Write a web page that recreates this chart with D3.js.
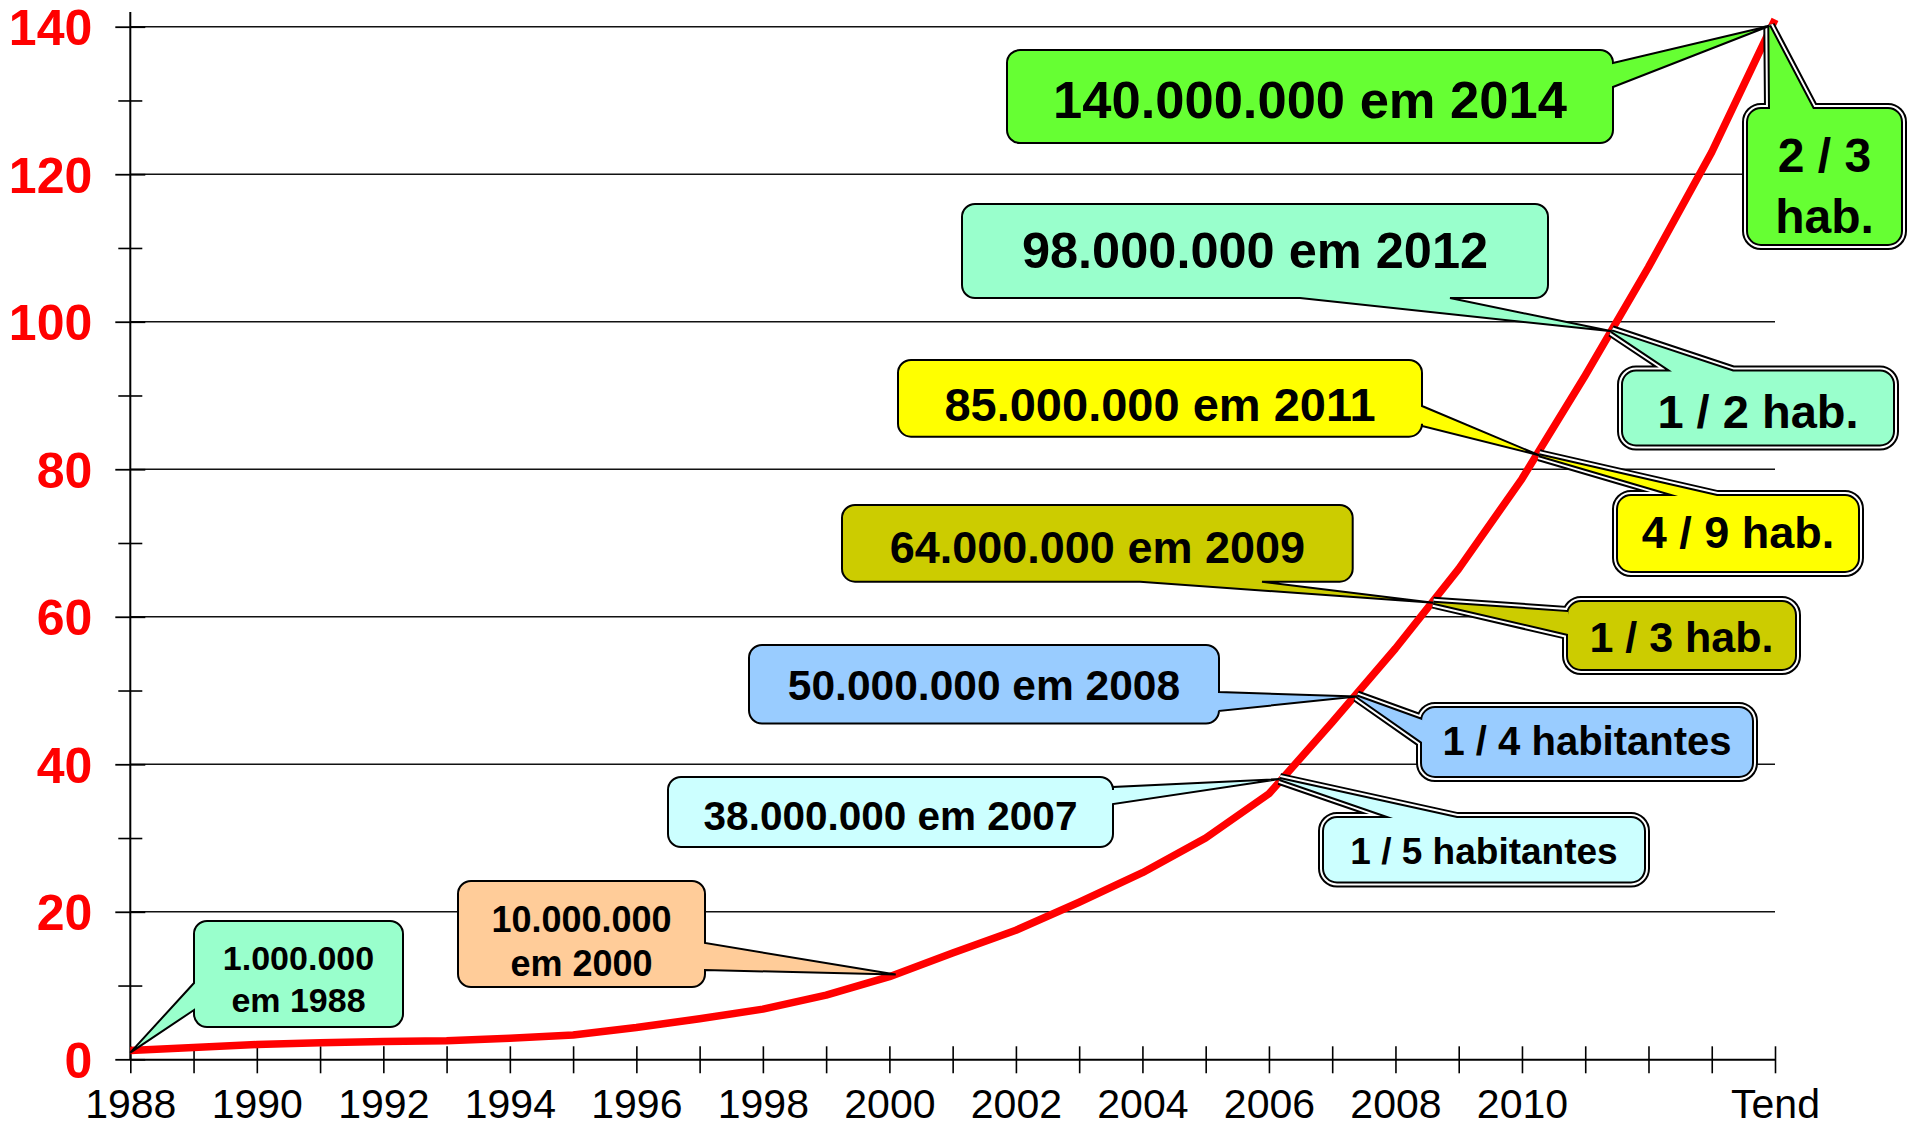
<!DOCTYPE html>
<html>
<head>
<meta charset="utf-8">
<script src="https://cdn.jsdelivr.net/npm/d3@7"></script>
<style>
  body { margin: 0; background: #fff; }
  svg { display: block; }
</style>
</head>
<body>
<div id="chart"></div>
<script>
// usuários (milhões) por ano
const anos = [1988, 1989, 1990, 1991, 1992, 1993, 1994, 1995, 1996, 1997, 1998, 1999, 2000,
              2001, 2002, 2003, 2004, 2005, 2006, 2007, 2008, 2009, 2010, 2011, 2012, 2013, 2014];
const usuarios = [1.2, 1.6, 2.0, 2.25, 2.4, 2.5, 2.85, 3.3, 4.3, 5.5, 6.8, 8.7, 11.2,
                  14.4, 17.5, 21.3, 25.3, 30.0, 36.0, 45.7, 55.7, 66.5, 78.7, 92.7, 107.4, 123, 141];

const yTicks = [0, 20, 40, 60, 80, 100, 120, 140];
const yMenores = [10, 30, 50, 70, 90, 110, 130];
const xRotuloAnos = [1988, 1990, 1992, 1994, 1996, 1998, 2000, 2002, 2004, 2006, 2008, 2010, 2014];
const xRotuloTextos = ['1988', '1990', '1992', '1994', '1996', '1998', '2000', '2002', '2004', '2006', '2008', '2010', 'Tend'];

// marcos: texto e ponto da curva
const marcos = [
  { linhas: ['1.000.000', 'em 1988'], ano: 1988, valor: 0.9 },
  { linhas: ['10.000.000', 'em 2000'], ano: 2000.1, valor: 11.5 },
  { linhas: ['38.000.000 em 2007'], ano: 2006.17, valor: 38 },
  { linhas: ['50.000.000 em 2008'], ano: 2007.39, valor: 49.2 },
  { linhas: ['64.000.000 em 2009'], ano: 2008.6, valor: 61.9 },
  { linhas: ['85.000.000 em 2011'], ano: 2010.27, valor: 81.9 },
  { linhas: ['98.000.000 em 2012'], ano: 2011.42, valor: 98.7 },
  { linhas: ['140.000.000 em 2014'], ano: 2013.91, valor: 140.1 }
];
const proporcoes = [
  { linhas: ['1 / 5 habitantes'], ano: 2006.17, valor: 38 },
  { linhas: ['1 / 4 habitantes'], ano: 2007.39, valor: 49.2 },
  { linhas: ['1 / 3 hab.'], ano: 2008.6, valor: 61.9 },
  { linhas: ['4 / 9 hab.'], ano: 2010.27, valor: 81.9 },
  { linhas: ['1 / 2 hab.'], ano: 2011.42, valor: 98.7 },
  { linhas: ['2 / 3', 'hab.'], ano: 2013.91, valor: 140.1 }
];

// layout das caixas (px)
const caixasMarcos = [
  { x0: 194, y0: 921, x1: 403, y1: 1027, lado: 'left', base: [983, 1010], fs: 34, bl: [970, 1011.7], cor: '#99FFCC' },
  { x0: 458, y0: 881, x1: 705, y1: 987, lado: 'right', base: [943, 970], fs: 36, bl: [931.7, 976], cor: '#FFCC99' },
  { x0: 668, y0: 777, x1: 1113, y1: 847, lado: 'right', base: [787, 804], fs: 40.5, bl: [830], cor: '#CCFFFF' },
  { x0: 749, y0: 645, x1: 1219, y1: 723.5, lado: 'right', base: [692, 711], fs: 42.5, bl: [699.5], cor: '#99CCFF' },
  { x0: 842, y0: 505, x1: 1352.7, y1: 581.7, lado: 'bottom', base: [1140, 1262], fs: 45, bl: [562.7], cor: '#CCCC00' },
  { x0: 898, y0: 360, x1: 1422, y1: 436.7, lado: 'right', base: [406, 426], fs: 47, bl: [420.7], cor: '#FFFF00' },
  { x0: 962, y0: 204, x1: 1548, y1: 298, lado: 'bottom', base: [1300, 1450], fs: 50.5, bl: [268.3], cor: '#99FFCC' },
  { x0: 1007, y0: 50, x1: 1613, y1: 143, lado: 'right', base: [63, 87], fs: 52.5, bl: [118.3], cor: '#66FF33' }
];
const caixasProporcoes = [
  { x0: 1318, y0: 812, x1: 1650, y1: 887.5, lado: 'top', base: [1393, 1457], fs: 37, bl: [864], cor: '#CCFFFF' },
  { x0: 1416, y0: 702, x1: 1758, y1: 782, lado: 'left', base: [720, 742], fs: 40, bl: [755], cor: '#99CCFF' },
  { x0: 1562, y0: 596, x1: 1801, y1: 675, lado: 'left', base: [612, 634], fs: 43, bl: [651.7], cor: '#CCCC00' },
  { x0: 1612, y0: 490, x1: 1864, y1: 577, lado: 'top', base: [1678, 1717], fs: 45, bl: [548.3], cor: '#FFFF00' },
  { x0: 1617, y0: 365.5, x1: 1899, y1: 450.5, lado: 'top', base: [1672, 1733], fs: 47, bl: [428.3], cor: '#99FFCC' },
  { x0: 1742, y0: 103, x1: 1907, y1: 250, lado: 'top', base: [1770, 1813], fs: 48, bl: [171.7, 233.3], cor: '#66FF33' }
];

const width = 1914, height = 1128;
const fonte = '"Liberation Sans", Arial, sans-serif';

const x = d3.scaleLinear().domain([1988, 2014]).range([130.3, 1775]);
const y = d3.scaleLinear().domain([0, 140]).range([1059.3, 26.7]);

const svg = d3.select('#chart').append('svg')
    .attr('width', width)
    .attr('height', height);

// gridlines
svg.append('g')
    .selectAll('line')
    .data(yTicks.filter(d => d > 0))
    .enter()
    .append('line')
    .attr('x1', x(1988))
    .attr('x2', x(2014))
    .attr('y1', d => y(d))
    .attr('y2', d => y(d))
    .attr('stroke', '#111')
    .attr('stroke-width', 1.6);

// eixo x
const xAxis = svg.append('g')
    .attr('transform', `translate(0,${y(0)})`)
    .call(d3.axisBottom(x).tickValues(anos).tickSize(14).tickSizeOuter(0)
        .tickFormat(d => {
            const i = xRotuloAnos.indexOf(d);
            return i >= 0 ? xRotuloTextos[i] : '';
        }));
xAxis.select('.domain').attr('stroke', '#000').attr('stroke-width', 2);
xAxis.selectAll('.tick line').attr('y1', -13).attr('stroke', '#000').attr('stroke-width', 1.6);
xAxis.selectAll('.tick text')
    .attr('y', 1118 - y(0))
    .attr('dy', 0)
    .attr('fill', '#000')
    .attr('font-family', fonte)
    .attr('font-size', 41);

// eixo y
const yAxis = svg.append('g')
    .attr('transform', `translate(${x(1988)},0)`)
    .call(d3.axisLeft(y).tickValues(yTicks).tickSize(15).tickSizeOuter(0).tickPadding(23));
yAxis.select('.domain').remove();
yAxis.selectAll('.tick line').attr('x1', 15).attr('stroke', '#000').attr('stroke-width', 1.8);
yAxis.selectAll('.tick text')
    .attr('dy', '0.36em')
    .attr('fill', '#FF0000')
    .attr('font-weight', 'bold')
    .attr('font-family', fonte)
    .attr('font-size', 50);

const yMinorAxis = svg.append('g')
    .attr('transform', `translate(${x(1988)},0)`)
    .call(d3.axisLeft(y).tickValues(yMenores).tickSize(12).tickFormat(''));
yMinorAxis.select('.domain').remove();
yMinorAxis.selectAll('.tick line').attr('x1', 12).attr('stroke', '#000').attr('stroke-width', 1.6);

svg.append('line')
    .attr('x1', x(1988)).attr('x2', x(1988))
    .attr('y1', 12).attr('y2', y(0))
    .attr('stroke', '#000')
    .attr('stroke-width', 2);

// curva
const linha = d3.line()
    .x((d, i) => x(anos[i]))
    .y(d => y(d));

svg.append('path')
    .datum(usuarios)
    .attr('d', linha)
    .attr('fill', 'none')
    .attr('stroke', '#FF0000')
    .attr('stroke-width', 7.5)
    .attr('stroke-linejoin', 'round');

// balões
function balao(b, tip, inset) {
    const x0 = b.x0 + inset, y0 = b.y0 + inset, x1 = b.x1 - inset, y1 = b.y1 - inset;
    const r = 13;
    const p = d3.path();
    p.moveTo(x0 + r, y0);
    if (b.lado === 'top') { p.lineTo(b.base[0], y0); p.lineTo(tip[0], tip[1]); p.lineTo(b.base[1], y0); }
    p.lineTo(x1 - r, y0);
    p.arcTo(x1, y0, x1, y0 + r, r);
    if (b.lado === 'right') { p.lineTo(x1, b.base[0]); p.lineTo(tip[0], tip[1]); p.lineTo(x1, b.base[1]); }
    p.lineTo(x1, y1 - r);
    p.arcTo(x1, y1, x1 - r, y1, r);
    if (b.lado === 'bottom') { p.lineTo(b.base[1], y1); p.lineTo(tip[0], tip[1]); p.lineTo(b.base[0], y1); }
    p.lineTo(x0 + r, y1);
    p.arcTo(x0, y1, x0, y1 - r, r);
    if (b.lado === 'left') { p.lineTo(x0, b.base[1]); p.lineTo(tip[0], tip[1]); p.lineTo(x0, b.base[0]); }
    p.lineTo(x0, y0 + r);
    p.arcTo(x0, y0, x0 + r, y0, r);
    p.closePath();
    return p.toString();
}

function textos(g, d, b) {
    d.linhas.forEach((t, i) => {
        g.append('text')
            .attr('x', (b.x0 + b.x1) / 2)
            .attr('y', b.bl[i])
            .attr('text-anchor', 'middle')
            .attr('font-family', fonte)
            .attr('font-weight', 'bold')
            .attr('font-size', b.fs)
            .attr('fill', '#000')
            .text(t);
    });
}

const gProp = svg.append('g');
proporcoes.forEach((d, i) => {
    const b = caixasProporcoes[i];
    const tip = [x(d.ano), y(d.valor)];
    const dd = balao(b, tip, 6);
    const g = gProp.append('g');
    g.append('path').attr('d', dd).attr('fill', b.cor).attr('stroke', '#000').attr('stroke-width', 12);
    g.append('path').attr('d', dd).attr('fill', 'none').attr('stroke', '#fff').attr('stroke-width', 8);
    g.append('path').attr('d', dd).attr('fill', 'none').attr('stroke', '#000').attr('stroke-width', 4);
    g.append('path').attr('d', dd).attr('fill', b.cor);
    textos(g, d, b);
});

const gMarcos = svg.append('g');
marcos.forEach((d, i) => {
    const b = caixasMarcos[i];
    const tip = [x(d.ano), y(d.valor)];
    const g = gMarcos.append('g');
    g.append('path')
        .attr('d', balao(b, tip, 0))
        .attr('fill', b.cor)
        .attr('stroke', '#000')
        .attr('stroke-width', 2);
    textos(g, d, b);
});
</script>
</body>
</html>
